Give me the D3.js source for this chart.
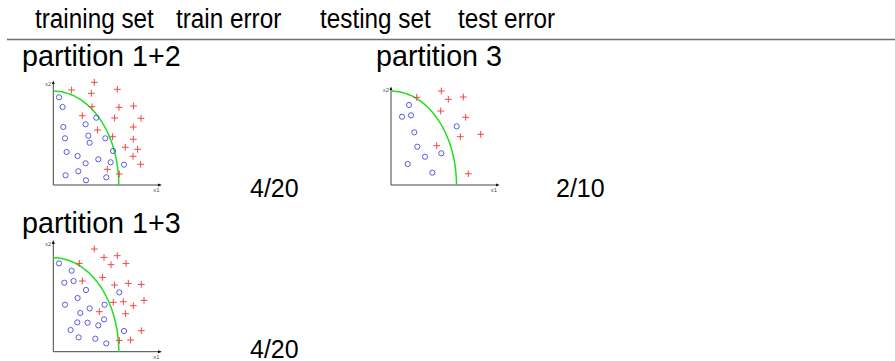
<!DOCTYPE html>
<html>
<head>
<meta charset="utf-8">
<script src="https://cdn.jsdelivr.net/npm/d3@7"></script>
<style>
  html, body { margin: 0; padding: 0; background: #fff; }
  svg { display: block; font-family: "Liberation Sans", Arial, Helvetica, sans-serif; }
</style>
</head>
<body>
<svg id="chart" width="895" height="361"></svg>
<script>
// Column headings of the cross-validation table
const headers = ["training set", "train error", "testing set", "test error"];
const headerX = [35, 176, 320, 458];

// Row labels and error rates
const trainSets = ["partition 1+2", "partition 1+3"];
const testSets = ["partition 3"];
const trainErrors = ["4/20", "4/20"];
const testErrors = ["2/10"];

// Class "o" (blue circles) and class "+" (red crosses), [x1, x2]
const p12Circles = [[0.57,8.77],[0.93,7.8],[4.3,6.73],[3.23,6.07],[1.0,5.8],[3.5,4.93],[5.2,4.67],[1.17,4.67],[3.63,4.23],[1.33,3.3],[2.43,2.9],[5.97,3.4],[4.5,2.57],[3.23,2.17],[5.73,2.27],[7.07,2.03],[2.5,1.37],[1.23,0.97],[3.27,0.47],[5.3,0.77]];
const p12Crosses = [[4.1,10.27],[1.83,9.5],[3.8,9.17],[6.4,9.57],[3.87,7.83],[6.57,7.77],[8.03,7.9],[2.9,6.93],[6.13,6.7],[8.77,6.67],[4.43,5.5],[8.0,5.8],[5.93,4.83],[8.0,4.57],[7.2,3.77],[8.43,3.57],[7.97,2.87],[8.73,2.07],[5.4,1.57],[6.6,1.1]];

const p3Circles = [[1.8,8.0],[1.1,6.83],[2.0,6.97],[2.33,5.27],[6.57,5.87],[2.63,3.83],[5.03,3.17],[3.4,2.83],[1.67,2.1],[4.13,1.23]];
const p3Crosses = [[5.03,9.4],[2.57,8.77],[5.73,8.57],[7.23,8.8],[4.97,7.4],[7.47,6.77],[6.93,4.83],[8.97,5.07],[4.57,3.93],[7.73,1.13]];

const p13Circles = [[0.57,8.83],[1.83,8.1],[1.1,6.9],[2.03,7.07],[3.27,6.17],[2.43,5.37],[1.17,4.7],[6.6,5.93],[3.63,4.33],[2.7,3.87],[5.13,4.7],[5.07,3.23],[2.4,2.93],[3.43,2.9],[4.5,2.63],[1.73,2.17],[7.07,2.07],[2.53,1.43],[4.2,1.3],[5.3,0.83]];
const p13Crosses = [[4.1,10.27],[5.07,9.43],[6.4,9.6],[2.6,8.83],[5.77,8.7],[7.27,8.83],[4.93,7.43],[2.9,7.07],[6.13,6.67],[7.5,6.83],[8.8,6.73],[6.0,4.93],[7.0,5.0],[8.0,4.6],[9.07,5.13],[4.6,4.0],[7.23,3.8],[8.8,2.1],[6.6,1.13],[7.73,1.17]];

// Decision boundary: quarter ellipse semi-axes [along x1, along x2]
const boundary = [6.55, 9.4];

// Panel frames: origin, axis extents in data units
const panels = [
  { circles: p12Circles, crosses: p12Crosses, ox: 53.3, oy: 185, xMax: 10.7, yMax: 10.3 },
  { circles: p3Circles,  crosses: p3Crosses,  ox: 391,  oy: 185, xMax: 10.7, yMax: 9.7 },
  { circles: p13Circles, crosses: p13Crosses, ox: 53.3, oy: 351.7, xMax: 10.7, yMax: 11.0 }
];
const unitPx = 10;

const svg = d3.select("#chart");

const defs = svg.append("defs");
defs.append("marker")
  .attr("id", "arrow")
  .attr("viewBox", "0 0 10 10")
  .attr("refX", 6).attr("refY", 5)
  .attr("markerWidth", 4).attr("markerHeight", 4)
  .attr("markerUnits", "userSpaceOnUse")
  .attr("orient", "auto")
  .append("path")
  .attr("d", "M0,1 L10,5 L0,9 Z")
  .attr("fill", "#111");

// Header row: tall, slightly narrow lettering
svg.append("g").selectAll("text")
  .data(headers)
  .join("text")
  .attr("transform", (d, i) => `translate(${headerX[i]},27.5) scale(0.9,1)`)
  .attr("font-size", 27)
  .attr("fill", "#000")
  .text(d => d);

svg.append("line")
  .attr("x1", 7).attr("x2", 895)
  .attr("y1", 39.5).attr("y2", 39.5)
  .attr("stroke", "#707070")
  .attr("stroke-width", 1.6);

// Row labels
const labelRows = [
  { text: trainSets[0], x: 22, y: 66 },
  { text: testSets[0], x: 376, y: 66 },
  { text: trainSets[1], x: 22, y: 232.7 },
  { text: trainErrors[0], x: 250, y: 197, small: true },
  { text: testErrors[0], x: 556, y: 197, small: true },
  { text: trainErrors[1], x: 250, y: 357.5, small: true }
];
svg.append("g").selectAll("text")
  .data(labelRows)
  .join("text")
  .attr("x", d => d.x)
  .attr("y", d => d.y)
  .attr("font-size", d => d.small ? 25 : 28.7)
  .attr("fill", "#000")
  .text(d => d.text);

// Scatter panels
panels.forEach(p => {
  const x = d3.scaleLinear().domain([0, p.xMax]).range([p.ox, p.ox + p.xMax * unitPx]);
  const y = d3.scaleLinear().domain([0, p.yMax]).range([p.oy, p.oy - p.yMax * unitPx]);
  const g = svg.append("g");

  // axes with arrowheads
  g.append("line")
    .attr("x1", x(0)).attr("y1", y(0)).attr("x2", x(p.xMax)).attr("y2", y(0))
    .attr("stroke", "#444").attr("stroke-width", 1)
    .attr("marker-end", "url(#arrow)");
  g.append("line")
    .attr("x1", x(0)).attr("y1", y(0)).attr("x2", x(0)).attr("y2", y(p.yMax))
    .attr("stroke", "#444").attr("stroke-width", 1)
    .attr("marker-end", "url(#arrow)");

  g.append("text")
    .attr("x", x(0) - 2).attr("y", y(p.yMax) + 4)
    .attr("text-anchor", "end")
    .attr("font-size", 6).attr("fill", "#555")
    .text("x2");
  g.append("text")
    .attr("x", x(p.xMax) - 4).attr("y", y(0) + 7)
    .attr("text-anchor", "middle")
    .attr("font-size", 6).attr("fill", "#555")
    .text("x1");

  // boundary curve
  const angles = d3.range(0, 91, 3).map(a => a * Math.PI / 180);
  g.append("path")
    .datum(angles)
    .attr("d", d3.line()
      .x(t => x(boundary[0] * Math.sin(t)))
      .y(t => y(boundary[1] * Math.cos(t)))
      .curve(d3.curveBasis))
    .attr("fill", "none")
    .attr("stroke", "#1ee01e")
    .attr("stroke-width", 1.5);

  g.append("g").selectAll("circle")
    .data(p.circles)
    .join("circle")
    .attr("cx", d => x(d[0]))
    .attr("cy", d => y(d[1]))
    .attr("r", 2.6)
    .attr("fill", "none")
    .attr("stroke", "#4a4ae0")
    .attr("stroke-width", 0.9);

  const s = 3.4;
  g.append("g").selectAll("path")
    .data(p.crosses)
    .join("path")
    .attr("d", d => `M${x(d[0]) - s},${y(d[1])}H${x(d[0]) + s}M${x(d[0])},${y(d[1]) - s}V${y(d[1]) + s}`)
    .attr("stroke", "#f04848")
    .attr("stroke-width", 1);
});
</script>
</body>
</html>
